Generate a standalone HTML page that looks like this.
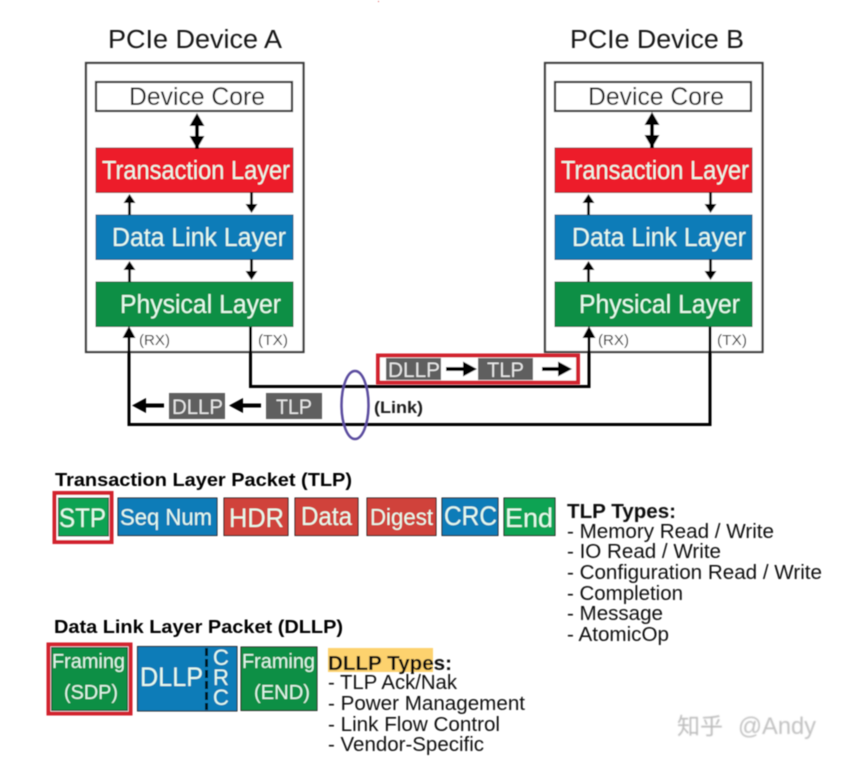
<!DOCTYPE html>
<html><head><meta charset="utf-8"><style>
html,body{margin:0;padding:0;background:#fff}
svg{display:block}
text{font-family:"Liberation Sans","Noto Sans CJK SC",sans-serif}
.w{fill:#e6fbee;font-size:25.5px}
.k{fill:#111;font-size:20px}
.b{font-weight:bold}
</style></head><body>
<svg width="843" height="777" viewBox="0 0 843 777" xmlns="http://www.w3.org/2000/svg">
<defs>
<filter id="s" x="-2%" y="-2%" width="104%" height="104%"><feGaussianBlur stdDeviation="0.4"/></filter>
<filter id="m" x="-10%" y="-20%" width="120%" height="140%"><feGaussianBlur stdDeviation="0.7"/></filter>
<g id="dev">
<rect x="86" y="63" width="217.500" height="289" fill="#fff" stroke="#3c3c3c" stroke-width="2.200"/>
<rect x="96" y="82" width="196" height="29" fill="#fff" stroke="#333" stroke-width="2.200"/>
<rect x="96" y="148" width="197" height="44.500" fill="#ed1c2a" stroke="#8a2a30"/>
<rect x="96" y="215" width="197" height="44.500" fill="#0f7bb8" stroke="#1a5a80"/>
<rect x="96" y="282" width="197" height="44.500" fill="#0b8f45" stroke="#17653a"/>
<path d="M129.500 215V200M251.500 192V207M129.500 282V267M251.500 259V274" stroke="#111" stroke-width="2.800"/>
<path d="M129.500 194l-6 9h12zM251.500 213l-6-9h12zM129.500 261l-6 9h12zM251.500 280l-6-9h12z" fill="#000"/>
</g>
<g id="dbl">
<path d="M0 12V36" stroke="#000" stroke-width="4"/>
<path d="M0 0l-7.500 13h15zM0 36l-7.500-13h15z" fill="#000"/>
</g>
</defs>
<g filter="url(#s)">
<rect x="378" y="1" width="1" height="1" fill="#d55"/>
<use href="#dev"/>
<use href="#dev" x="459"/>
<use href="#dbl" x="197" y="113"/>
<use href="#dbl" x="652" y="112"/>

<text x="108" y="48" font-size="25.500" fill="#181818" textLength="174" lengthAdjust="spacingAndGlyphs">PCIe Device A</text>
<text x="570" y="48" font-size="25.500" fill="#181818" textLength="174" lengthAdjust="spacingAndGlyphs">PCIe Device B</text>
<text x="129" y="105" font-size="25" fill="#1c1c1c" textLength="136" lengthAdjust="spacingAndGlyphs">Device Core</text>
<text x="588" y="105" font-size="25" fill="#1c1c1c" textLength="136" lengthAdjust="spacingAndGlyphs">Device Core</text>
<text class="w" x="102" y="179" textLength="188" lengthAdjust="spacingAndGlyphs">Transaction Layer</text>
<text class="w" x="561" y="179" textLength="188" lengthAdjust="spacingAndGlyphs">Transaction Layer</text>
<text class="w" x="112" y="246" textLength="174" lengthAdjust="spacingAndGlyphs">Data Link Layer</text>
<text class="w" x="572" y="246" textLength="174" lengthAdjust="spacingAndGlyphs">Data Link Layer</text>
<text class="w" x="120" y="313" textLength="161" lengthAdjust="spacingAndGlyphs">Physical Layer</text>
<text class="w" x="579" y="313" textLength="161" lengthAdjust="spacingAndGlyphs">Physical Layer</text>

<g font-size="15" fill="#333">
<text x="139" y="345" textLength="31" lengthAdjust="spacingAndGlyphs">(RX)</text><text x="258" y="345" textLength="30" lengthAdjust="spacingAndGlyphs">(TX)</text>
<text x="598" y="345" textLength="31" lengthAdjust="spacingAndGlyphs">(RX)</text><text x="717" y="345" textLength="30" lengthAdjust="spacingAndGlyphs">(TX)</text>
</g>

<!-- link wires -->
<path d="M250.500 327V386.500H589V335" fill="none" stroke="#000" stroke-width="3"/>
<path d="M710 327V424.500H129V335" fill="none" stroke="#000" stroke-width="3"/>
<path d="M129 326l-6.500 12h13zM589 326l-6.500 12h13z" fill="#000"/>

<!-- red packet group -->
<rect x="378" y="355.500" width="200" height="27" fill="#fff" stroke="#d2202f" stroke-width="4"/>
<rect x="386" y="358" width="55" height="22" fill="#5f5f5f"/>
<rect x="478" y="358" width="55" height="22" fill="#5f5f5f"/>
<text x="388" y="377" font-size="21" fill="#e8e8e8" textLength="52" lengthAdjust="spacingAndGlyphs">DLLP</text>
<text x="487" y="377" font-size="21" fill="#e8e8e8" textLength="37" lengthAdjust="spacingAndGlyphs">TLP</text>
<path d="M446 369H466M542 369H562" stroke="#000" stroke-width="4"/>
<path d="M477 369l-14-7.500v15zM572 369l-14-7.500v15z" fill="#000"/>

<!-- lower packets -->
<rect x="169" y="393" width="56" height="26" fill="#5f5f5f"/>
<rect x="266" y="393" width="56" height="26" fill="#5f5f5f"/>
<text x="172" y="414" font-size="21" fill="#e8e8e8" textLength="51" lengthAdjust="spacingAndGlyphs">DLLP</text>
<text x="276" y="414" font-size="21" fill="#e8e8e8" textLength="36" lengthAdjust="spacingAndGlyphs">TLP</text>
<path d="M144 405.500H164M240 405.500H261" stroke="#000" stroke-width="4"/>
<path d="M132 405.500l14-7.500v15zM229 405.500l14-7.500v15z" fill="#000"/>

<ellipse cx="355" cy="405" rx="13.500" ry="34" fill="none" stroke="#5a4b9e" stroke-width="2.500"/>
<text x="374" y="413" font-size="17" font-weight="bold" fill="#1c1c1c" textLength="49" lengthAdjust="spacingAndGlyphs">(Link)</text>

<!-- TLP section -->
<text x="55" y="486" font-size="18.500" font-weight="bold" fill="#000" textLength="297" lengthAdjust="spacingAndGlyphs">Transaction Layer Packet (TLP)</text>
<rect x="54.500" y="493" width="57" height="49" fill="#fff" stroke="#d2202f" stroke-width="4"/>
<rect x="58.500" y="498" width="50" height="38" fill="#0ea353" stroke="#222"/>
<rect x="118" y="498" width="99" height="37.500" fill="#0f7bb8" stroke="#222"/>
<rect x="224" y="498" width="64" height="37.500" fill="#d0423a" stroke="#222"/>
<rect x="295" y="498" width="63" height="37.500" fill="#d0423a" stroke="#222"/>
<rect x="367" y="498" width="69" height="37.500" fill="#d0423a" stroke="#222"/>
<rect x="442" y="498" width="56" height="37.500" fill="#0f7bb8" stroke="#222"/>
<rect x="504" y="498" width="51" height="37.500" fill="#0ea353" stroke="#222"/>
<g fill="#e6fbee">
<text x="59" y="527" font-size="27" textLength="47" lengthAdjust="spacingAndGlyphs">STP</text>
<text x="120" y="525" font-size="23" textLength="92" lengthAdjust="spacingAndGlyphs">Seq Num</text>
<text x="229" y="527" font-size="27" textLength="55" lengthAdjust="spacingAndGlyphs">HDR</text>
<text x="301" y="525" font-size="26" textLength="51" lengthAdjust="spacingAndGlyphs">Data</text>
<text x="370" y="525" font-size="23" textLength="63" lengthAdjust="spacingAndGlyphs">Digest</text>
<text x="444" y="525" font-size="27" textLength="53" lengthAdjust="spacingAndGlyphs">CRC</text>
<text x="505" y="527" font-size="27" textLength="48" lengthAdjust="spacingAndGlyphs">End</text>
</g>

<text class="k b" x="567" y="518" textLength="109" lengthAdjust="spacingAndGlyphs">TLP Types:</text>
<text class="k" x="567" y="538" textLength="207" lengthAdjust="spacingAndGlyphs">- Memory Read / Write</text>
<text class="k" x="567" y="558" textLength="154" lengthAdjust="spacingAndGlyphs">- IO Read / Write</text>
<text class="k" x="567" y="579" textLength="255" lengthAdjust="spacingAndGlyphs">- Configuration Read / Write</text>
<text class="k" x="567" y="600" textLength="116" lengthAdjust="spacingAndGlyphs">- Completion</text>
<text class="k" x="567" y="620" textLength="96" lengthAdjust="spacingAndGlyphs">- Message</text>
<text class="k" x="567" y="641" textLength="102" lengthAdjust="spacingAndGlyphs">- AtomicOp</text>

<!-- DLLP section -->
<text x="54" y="633" font-size="18.500" font-weight="bold" fill="#000" textLength="289" lengthAdjust="spacingAndGlyphs">Data Link Layer Packet (DLLP)</text>
<rect x="48.500" y="644.500" width="82" height="69" fill="#fff" stroke="#d2202f" stroke-width="4"/>
<rect x="51.500" y="647.500" width="76" height="63" fill="#0b8f45" stroke="#222"/>
<rect x="137.500" y="646.500" width="99.500" height="64.500" fill="#0f7bb8" stroke="#222"/>
<rect x="241" y="647" width="76" height="63.500" fill="#0b8f45" stroke="#222"/>
<path d="M206.500 648V710" stroke="#06121e" stroke-width="3" stroke-dasharray="8 3"/>
<g fill="#e0f5ea" font-size="20">
<text x="52" y="668" textLength="73" lengthAdjust="spacingAndGlyphs">Framing</text>
<text x="64" y="699" textLength="54" lengthAdjust="spacingAndGlyphs">(SDP)</text>
<text x="242" y="668" textLength="73" lengthAdjust="spacingAndGlyphs">Framing</text>
<text x="254" y="699" textLength="56" lengthAdjust="spacingAndGlyphs">(END)</text>
</g>
<g fill="#e6fbee">
<text x="140" y="686" font-size="27" textLength="63" lengthAdjust="spacingAndGlyphs">DLLP</text>
<text x="213" y="665" font-size="22">C</text>
<text x="213" y="685" font-size="22">R</text>
<text x="213" y="705" font-size="22">C</text>
</g>

<rect x="328" y="648" width="105" height="24" fill="#fdd26e"/>
<text class="k b" x="328" y="670" textLength="124" lengthAdjust="spacingAndGlyphs">DLLP Types:</text>
<text class="k" x="328" y="689" textLength="129" lengthAdjust="spacingAndGlyphs">- TLP Ack/Nak</text>
<text class="k" x="328" y="710" textLength="197" lengthAdjust="spacingAndGlyphs">- Power Management</text>
<text class="k" x="328" y="731" textLength="172" lengthAdjust="spacingAndGlyphs">- Link Flow Control</text>
<text class="k" x="328" y="751" textLength="156" lengthAdjust="spacingAndGlyphs">- Vendor-Specific</text>
</g>
<g filter="url(#m)">
<text x="677" y="734" font-size="23" fill="#bdbdbd">知乎</text>
<text x="738" y="734" font-size="24" fill="#c2c2c2" textLength="78" lengthAdjust="spacingAndGlyphs">@Andy</text>
</g>
</svg>
</body></html>
